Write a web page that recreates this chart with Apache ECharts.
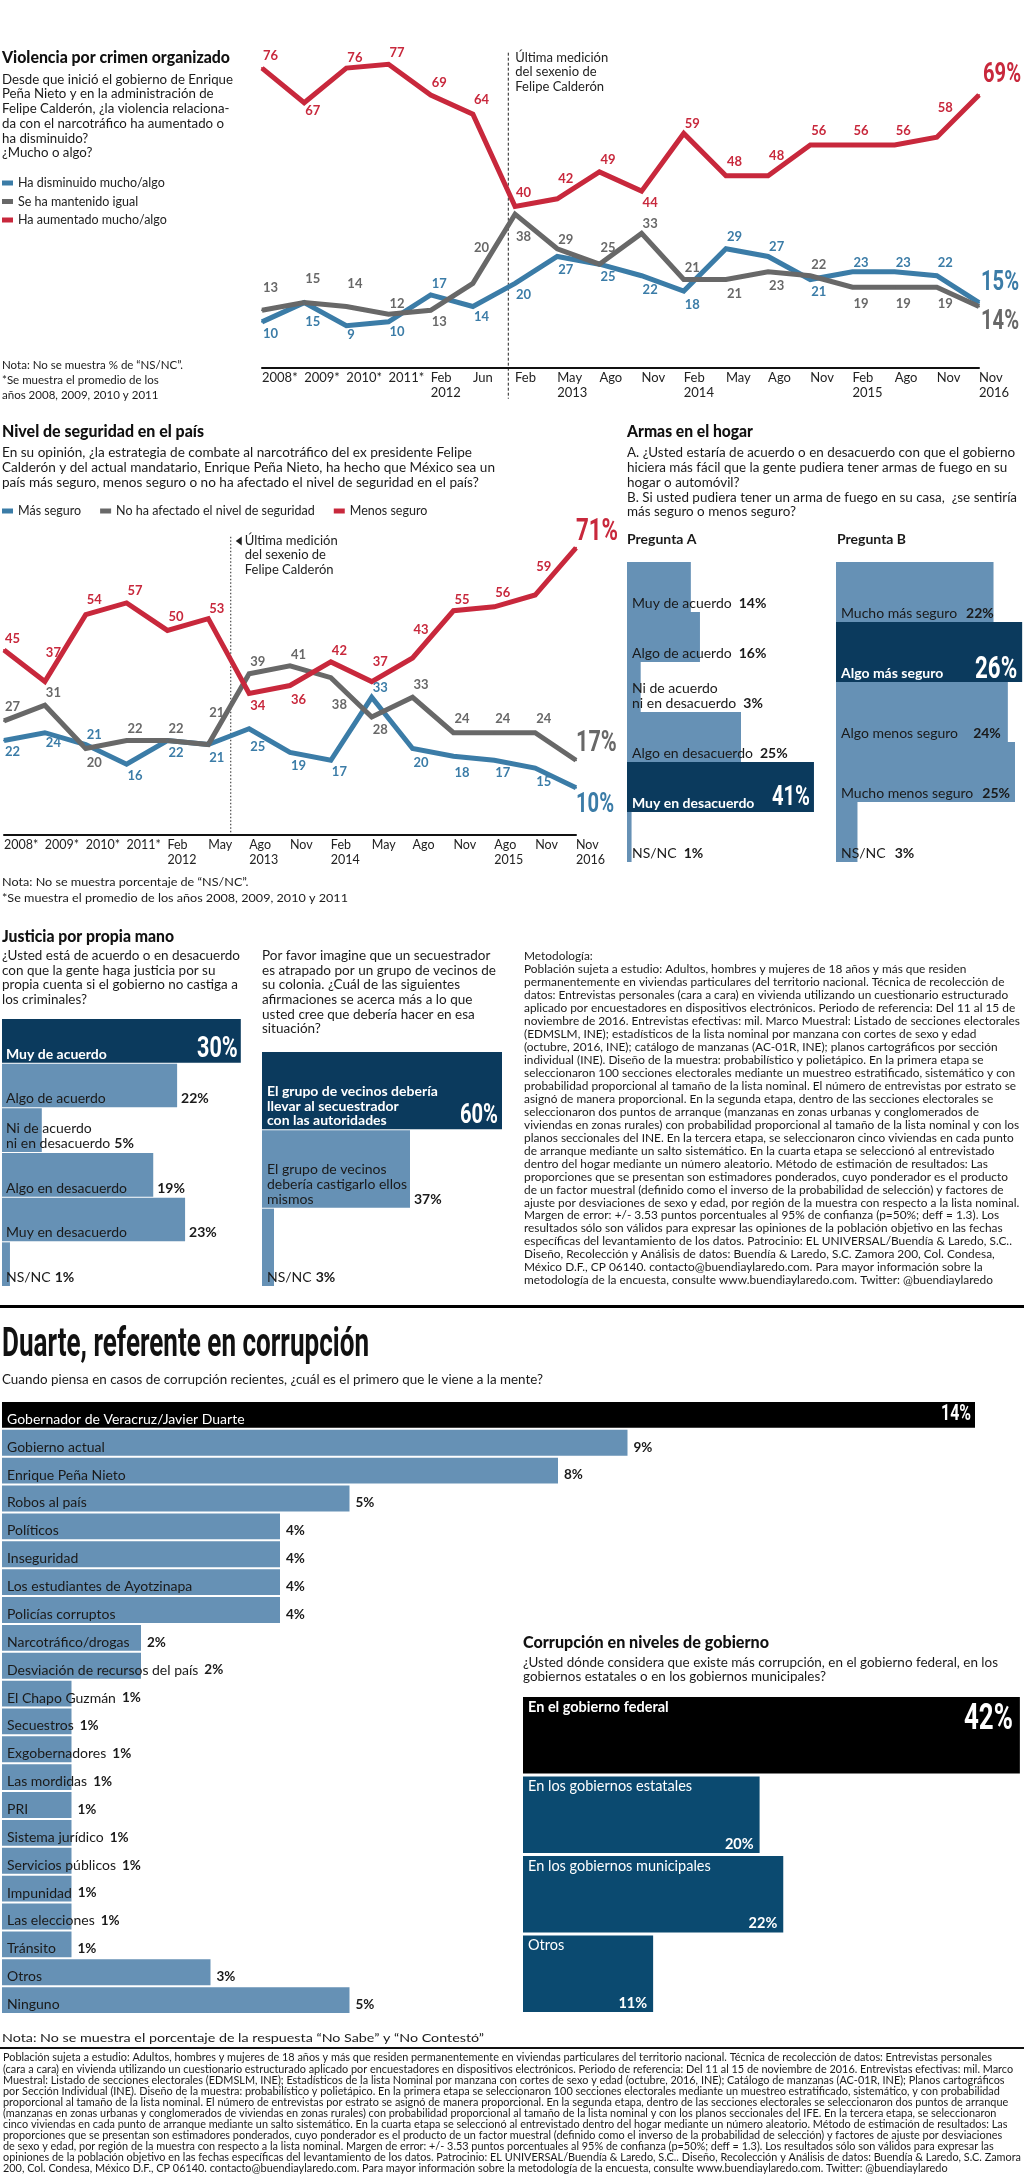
<!DOCTYPE html>
<html><head><meta charset="utf-8">
<script src="https://cdn.jsdelivr.net/npm/echarts@6/dist/echarts.min.js"></script>
<style>html,body{margin:0;padding:0;background:#fff}#c{width:1024px;height:2176px}</style>
</head><body><div id="c"></div>
<script>
// ---------------- DATA ----------------
const violCats = ['2008*','2009*','2010*','2011*','Feb\n2012','Jun','Feb','May\n2013','Ago','Nov','Feb\n2014','May','Ago','Nov','Feb\n2015','Ago','Nov','Nov\n2016'];
const violAumentado = [76,67,76,77,69,64,40,42,49,44,59,48,48,56,56,56,58,69];
const violIgual     = [13,15,14,12,13,20,38,29,25,33,21,21,23,22,19,19,19,14];
const violDisminuido= [10,15,9,10,17,14,20,27,25,22,18,29,27,21,23,23,22,15];

const segCats = ['2008*','2009*','2010*','2011*','Feb\n2012','May','Ago\n2013','Nov','Feb\n2014','May','Ago','Nov','Ago\n2015','Nov','Nov\n2016'];
const segMenos      = [45,37,54,57,50,53,34,36,42,37,43,55,56,59,71];
const segNoAfectado = [27,31,20,22,22,21,39,41,38,28,33,24,24,24,17];
const segMas        = [22,24,21,16,22,21,25,19,17,33,20,18,17,15,10];

const armasANames = ['Muy de acuerdo','Algo de acuerdo','Ni de acuerdo\nni en desacuerdo','Algo en desacuerdo','Muy en desacuerdo','NS/NC'];
const armasAValues = [14,16,3,25,41,1];
const armasBNames = ['Mucho más seguro','Algo más seguro','Algo menos seguro','Mucho menos seguro','NS/NC'];
const armasBValues = [22,26,24,25,3];
const justNames = ['Muy de acuerdo','Algo de acuerdo','Ni de acuerdo\nni en desacuerdo','Algo en desacuerdo','Muy en desacuerdo','NS/NC'];
const justValues = [30,22,5,19,23,1];
const secNames = ['El grupo de vecinos debería\nllevar al secuestrador\ncon las autoridades','El grupo de vecinos\ndebería castigarlo ellos\nmismos','NS/NC'];
const secValues = [60,37,3];
const duarteNames = ['Gobernador de Veracruz/Javier Duarte','Gobierno actual','Enrique Peña Nieto','Robos al país','Políticos','Inseguridad','Los estudiantes de Ayotzinapa','Policías corruptos','Narcotráfico/drogas','Desviación de recursos del país','El Chapo Guzmán','Secuestros','Exgobernadores','Las mordidas','PRI','Sistema jurídico','Servicios públicos','Impunidad','Las elecciones','Tránsito','Otros','Ninguno'];
const duarteValues = [14,9,8,5,4,4,4,4,2,2,1,1,1,1,1,1,1,1,1,1,3,5];
const nivelNames = ['En el gobierno federal','En los gobiernos estatales','En los gobiernos municipales','Otros'];
const nivelValues = [42,20,22,11];

// label vertical placement (style, px offset of label centre from point)
const violAumOff = [-12,8,-10,-11,-12,-14,-14,-20,-12,12,-10,-14,-20,-14,-14,-14,-29,0];
const violIguOff = [-23,-24,-23,-10,11,-36,23,-9,-16,-10,-12,14,14,-11,17,17,17,0];
const violDisOff = [12,19,9,10,-11,10,11,13,13,14,14,-12,-10,12,-9,-9,-13,0];
const segMenOff = [-11,-29,-15,-12,-14,-10,12,14,-11,-20,-28,-11,-14,-28,0];
const segNoOff  = [-14,-12,14,-12,-12,-32,-12,-11,27,13,-12,-14,-14,-14,0];
const segMasOff = [11,10,-10,12,12,13,18,13,12,-9,14,16,13,14,0];

// ---------------- TEXTS ----------------
const q1Lines = ['Desde que inició el gobierno de Enrique','Peña Nieto y en la administración de','Felipe Calderón, ¿la violencia relaciona-','da con el narcotráfico ha aumentado o','ha disminuido?','¿Mucho o algo?'];
const nota1Lines = ['Nota: No se muestra % de “NS/NC”.','*Se muestra el promedio de los','años 2008, 2009, 2010 y 2011'];
const q2Lines = ['En su opinión, ¿la estrategia de combate al narcotráfico del ex presidente Felipe','Calderón y del actual mandatario, Enrique Peña Nieto, ha hecho que México sea un','país más seguro, menos seguro o no ha afectado el nivel de seguridad en el país?'];
const nota2Lines = ['Nota: No se muestra porcentaje de “NS/NC”.','*Se muestra el promedio de los años 2008, 2009, 2010 y 2011'];
const armasLines = ['A. ¿Usted estaría de acuerdo o en desacuerdo con que el gobierno','hiciera más fácil que la gente pudiera tener armas de fuego en su','hogar o automóvil?','B. Si usted pudiera tener un arma de fuego en su casa,  ¿se sentiría','más seguro o menos seguro?'];
const just1Lines = ['¿Usted está de acuerdo o en desacuerdo','con que la gente haga justicia por su','propia cuenta si el gobierno no castiga a','los criminales?'];
const just2Lines = ['Por favor imagine que un secuestrador','es atrapado por un grupo de vecinos de','su colonia. ¿Cuál de las siguientes','afirmaciones se acerca más a lo que','usted cree que debería hacer en esa','situación?'];
const metLines = ['Metodología:',
'Población sujeta a estudio: Adultos, hombres y mujeres de 18 años y más que residen',
'permanentemente en viviendas particulares del territorio nacional. Técnica de recolección de',
'datos: Entrevistas personales (cara a cara) en vivienda utilizando un cuestionario estructurado',
'aplicado por encuestadores en dispositivos electrónicos. Periodo de referencia: Del 11 al 15 de',
'noviembre de 2016. Entrevistas efectivas: mil. Marco Muestral: Listado de secciones electorales',
'(EDMSLM, INE); estadísticos de la lista nominal por manzana con cortes de sexo y edad',
'(octubre, 2016, INE); catálogo de manzanas (AC-01R, INE); planos cartográficos por sección',
'individual (INE). Diseño de la muestra: probabilístico y polietápico. En la primera etapa se',
'seleccionaron 100 secciones electorales mediante un muestreo estratificado, sistemático y con',
'probabilidad proporcional al tamaño de la lista nominal. El número de entrevistas por estrato se',
'asignó de manera proporcional. En la segunda etapa, dentro de las secciones electorales se',
'seleccionaron dos puntos de arranque (manzanas en zonas urbanas y conglomerados de',
'viviendas en zonas rurales) con probabilidad proporcional al tamaño de la lista nominal y con los',
'planos seccionales del INE. En la tercera etapa, se seleccionaron cinco viviendas en cada punto',
'de arranque mediante un salto sistemático. En la cuarta etapa se seleccionó al entrevistado',
'dentro del hogar mediante un número aleatorio. Método de estimación de resultados: Las',
'proporciones que se presentan son estimadores ponderados, cuyo ponderador es el producto',
'de un factor muestral (definido como el inverso de la probabilidad de selección) y factores de',
'ajuste por desviaciones de sexo y edad, por región de la muestra con respecto a la lista nominal.',
'Margen de error: +/- 3.53 puntos porcentuales al 95% de confianza (p=50%; deff = 1.3). Los',
'resultados sólo son válidos para expresar las opiniones de la población objetivo en las fechas',
'específicas del levantamiento de los datos. Patrocinio: EL UNIVERSAL/Buendía & Laredo, S.C..',
'Diseño, Recolección y Análisis de datos: Buendía & Laredo, S.C. Zamora 200, Col. Condesa,',
'México D.F., CP 06140. contacto@buendiaylaredo.com. Para mayor información sobre la',
'metodología de la encuesta, consulte www.buendiaylaredo.com. Twitter: @buendiaylaredo'];
const corrLines = ['¿Usted dónde considera que existe más corrupción, en el gobierno federal, en los','gobiernos estatales o en los gobiernos municipales?'];
const botLines = [
'Población sujeta a estudio: Adultos, hombres y mujeres de 18 años y más que residen permanentemente en viviendas particulares del territorio nacional. Técnica de recolección de datos: Entrevistas personales',
'(cara a cara) en vivienda utilizando un cuestionario estructurado aplicado por encuestadores en dispositivos electrónicos. Periodo de referencia: Del 11 al 15 de noviembre de 2016. Entrevistas efectivas: mil. Marco',
'Muestral: Listado de secciones electorales (EDMSLM, INE); Estadísticos de la lista Nominal por manzana con cortes de sexo y edad (octubre, 2016, INE); Catálogo de manzanas (AC-01R, INE); Planos cartográficos',
'por Sección Individual (INE). Diseño de la muestra: probabilístico y polietápico. En la primera etapa se seleccionaron 100 secciones electorales mediante un muestreo estratificado, sistemático, y con probabilidad',
'proporcional al tamaño de la lista nominal. El número de entrevistas por estrato se asignó de manera proporcional. En la segunda etapa, dentro de las secciones electorales se seleccionaron dos puntos de arranque',
'(manzanas en zonas urbanas y conglomerados de viviendas en zonas rurales) con probabilidad proporcional al tamaño de la lista nominal y con los planos seccionales del IFE. En la tercera etapa, se seleccionaron',
'cinco viviendas en cada punto de arranque mediante un salto sistemático. En la cuarta etapa se seleccionó al entrevistado dentro del hogar mediante un número aleatorio. Método de estimación de resultados: Las',
'proporciones que se presentan son estimadores ponderados, cuyo ponderador es el producto de un factor muestral (definido como el inverso de la probabilidad de selección) y factores de ajuste por desviaciones',
'de sexo y edad, por región de la muestra con respecto a la lista nominal. Margen de error: +/- 3.53 puntos porcentuales al 95% de confianza (p=50%; deff = 1.3). Los resultados sólo son válidos para expresar las',
'opiniones de la población objetivo en las fechas específicas del levantamiento de los datos. Patrocinio: EL UNIVERSAL/Buendía & Laredo, S.C.. Diseño, Recolección y Análisis de datos: Buendía & Laredo, S.C. Zamora',
'200, Col. Condesa, México D.F., CP 06140. contacto@buendiaylaredo.com. Para mayor información sobre la metodología de la encuesta, consulte www.buendiaylaredo.com. Twitter: @buendiaylaredo'];

// ---------------- STYLE ----------------
const LIGHT='#6691b5', NAVY='#0b3a5d', CORR='#0b4a70', RED='#c8283c', BLUE='#3b7ca7', GRAY='#686868', INK='#1a1a1a';
const F = 'Lato, "Open Sans", sans-serif';
const FC = 'Roboto, "Open Sans", sans-serif';
const mctx = document.createElement('canvas').getContext('2d');
function fnt(w,s,fam){ return w+' '+s+'px '+(fam||F); }
function measure(t,f){ mctx.font=f; return mctx.measureText(t).width; }
function txt(x,y,text,o){
  o=o||{};
  const font=fnt(o.w||'normal',o.s||13,o.fam);
  let sx=o.sx||1;
  if(o.fit){
    const ls=o.fitAll?text.split('\n'):[o.fitText||text.split('\n')[0]];
    const mw=Math.max.apply(null,ls.map(l=>measure(l,font)));
    sx=o.fit/mw;
  }
  const va=o.va||'middle', a=o.a||'left';
  const st={text:text,x:0,y:0,font:font,fill:o.c||INK,align:a,verticalAlign:va};
  if(o.lh) st.lineHeight=o.lh;
  return {type:'text',x:x,y:y,scaleX:sx,scaleY:1,silent:true,style:st};
}

const chart = echarts.init(document.getElementById('c'), null, {width:1024,height:2176,renderer:'canvas'});

function lineS(name,data,offs,color,gi){
  return {type:'line',name:name,xAxisIndex:gi,yAxisIndex:gi,silent:true,animation:false,
    symbol:'circle',symbolSize:2,showSymbol:true,
    lineStyle:{width:5,color:color,join:'miter',cap:'butt'},itemStyle:{color:color},
    label:{show:true,position:'inside',align:'left',verticalAlign:'middle',color:color,fontFamily:F,fontWeight:'bold',fontSize:13},
    data:data.map((v,i)=>({value:v,label:{show:i<data.length-1,offset:[1,offs[i]]}}))};
}

const blocks = [
 {names:armasANames,values:armasAValues,hi:4,left:627,top:562,width:390,height:300,ppu:4.56,gap:0,color:LIGHT,hiColor:NAVY,
  nameSize:14,lineH:15,padX:5,padB:1,nameV:'bottom',nameColor:INK,hiNameWeight:'bold',valMode:'after',valGap:7,valSize:14,valColor:INK,
  hiSize:28,hiV:'bottom',hiOff:14,hiPadR:4},
 {names:armasBNames,values:armasBValues,hi:1,left:836,top:562,width:188,height:300,ppu:7.16,gap:0,color:LIGHT,hiColor:NAVY,
  nameSize:14,lineH:15,padX:5,padB:1,nameV:'bottom',nameColor:INK,hiNameWeight:'bold',valMode:'insideEnd',valPadR:7,valGap:9,valSize:14,valColor:INK,
  hiSize:31,hiV:'bottom',hiOff:12,hiPadR:5},
 {names:justNames,values:justValues,hi:0,left:2,top:1019,width:240,height:268,ppu:7.96,gap:1,color:LIGHT,hiColor:NAVY,
  nameSize:14,lineH:15,padX:4,padB:1,nameV:'bottom',nameColor:INK,hiNameWeight:'bold',valMode:'after',valGap:4,valSize:14,valColor:INK,
  hiSize:30,hiV:'bottom',hiOff:13,hiPadR:3},
 {names:secNames,values:secValues,hi:0,left:262,top:1052,width:245,height:235,ppu:4.0,gap:1,color:LIGHT,hiColor:NAVY,
  nameSize:14,lineH:14.7,padX:5,padB:1,nameV:'bottom',nameColor:INK,hiNameWeight:'bold',valMode:'after',valGap:4,valSize:14,valColor:INK,
  hiSize:28,hiV:'bottom',hiOff:13,hiPadR:4},
 {names:duarteNames,values:duarteValues,hi:0,left:2,top:1402,width:1020,height:613,ppu:69.5,gap:2,color:LIGHT,hiColor:'#000',
  nameSize:14,lineH:15,padX:5,padB:1,nameV:'bottom',nameColor:INK,hiNameWeight:'normal',valMode:'after',valGap:6,valSize:13.5,valColor:INK,
  hiSize:22,hiV:'middle',hiOff:0,hiPadR:4},
 {names:nivelNames,values:nivelValues,hi:0,left:523,top:1697,width:499,height:318,ppu:11.83,gap:3,color:CORR,hiColor:'#000',
  nameSize:14.5,lineH:16,padX:5,padB:1,nameV:'top',nameTopPad:2,nameColor:'#fff',hiNameWeight:'bold',valMode:'bottomRight',valPadR:6,valPadB:1,valSize:14.5,valColor:'#fff',
  hiSize:36,hiV:'top',hiOff:23,hiPadR:7}
];

function blockSeries(b,gi){
  return {type:'custom',xAxisIndex:gi,yAxisIndex:gi,clip:false,silent:true,animation:false,
    encode:{x:0,y:1},
    data:b.values.map((v,i)=>[v,i]),
    renderItem:function(params,api){
      const i=api.value(1), v=api.value(0);
      const p0=api.coord([0,i]), p1=api.coord([v,i]);
      const band=api.size([0,1])[1];
      const top=p0[1]-band/2, h=band-b.gap, bottom=top+h;
      const x0=p0[0], x1=p1[0];
      const hi=(i===b.hi);
      const kids=[{type:'rect',shape:{x:x0,y:top,width:x1-x0,height:h},style:{fill:hi?b.hiColor:b.color}}];
      const name=b.names[i];
      const nf=fnt(hi?b.hiNameWeight:'normal',b.nameSize);
      const nameTop=(b.nameV==='top');
      const ny=nameTop?top+b.nameTopPad:bottom-b.padB;
      kids.push({type:'text',style:{text:name,x:x0+b.padX,y:ny,font:nf,fill:hi?'#fff':b.nameColor,lineHeight:b.lineH,align:'left',verticalAlign:nameTop?'top':'bottom'}});
      const vt=v+'%';
      if(hi){
        const cy=b.hiV==='top'?top+b.hiOff:(b.hiV==='middle'?top+h/2:bottom-b.hiOff);
        kids.push({type:'text',x:x1-b.hiPadR,y:cy,scaleX:0.72,scaleY:1,style:{text:vt,x:0,y:0,font:fnt('bold',b.hiSize,FC),fill:'#fff',align:'right',verticalAlign:'middle'}});
      } else {
        const vf=fnt('bold',b.valSize);
        const vw=measure(vt,vf);
        const lines=name.split('\n');
        const nameEnd=x0+b.padX+measure(lines[lines.length-1],nf);
        let vx, vy=bottom-b.padB;
        if(b.valMode==='after') vx=Math.max(x1,nameEnd)+b.valGap;
        else if(b.valMode==='insideEnd') vx=Math.max(x1-b.valPadR-vw,nameEnd+b.valGap);
        else { vx=x1-b.valPadR-vw; vy=bottom-b.valPadB; }
        kids.push({type:'text',style:{text:vt,x:vx,y:vy,font:vf,fill:b.valColor,lineHeight:b.lineH,align:'left',verticalAlign:'bottom'}});
      }
      return {type:'group',children:kids};
    }};
}

const catAxis=(gi,data,fs)=>({gridIndex:gi,type:'category',data:data,boundaryGap:false,
  axisLine:{onZero:false,lineStyle:{color:'#111',width:2}},axisTick:{show:false},splitLine:{show:false},
  axisLabel:{interval:0,align:'left',margin:3,fontFamily:F,fontSize:fs,lineHeight:14.5,color:'#222'}});

const grids=[{left:262,top:45,width:717,height:323},{left:4,top:536,width:572,height:299}];
const xs=[catAxis(0,violCats,13),catAxis(1,segCats,12.5)];
const ys=[{gridIndex:0,type:'value',min:-2,max:82,show:false},{gridIndex:1,type:'value',min:-2,max:74,show:false}];
const ss=[
  lineS('Ha disminuido mucho/algo',violDisminuido,violDisOff,BLUE,0),
  lineS('Se ha mantenido igual',violIgual,violIguOff,GRAY,0),
  lineS('Ha aumentado mucho/algo',violAumentado,violAumOff,RED,0),
  lineS('Más seguro',segMas,segMasOff,BLUE,1),
  lineS('No ha afectado el nivel de seguridad',segNoAfectado,segNoOff,GRAY,1),
  lineS('Menos seguro',segMenos,segMenOff,RED,1)
];
blocks.forEach((b,k)=>{
  const gi=k+2;
  grids.push({left:b.left,top:b.top,width:b.width,height:b.height});
  xs.push({gridIndex:gi,type:'value',min:0,max:b.width/b.ppu,show:false});
  ys.push({gridIndex:gi,type:'category',data:b.names,inverse:true,show:false});
  ss.push(blockSeries(b,gi));
});

const legTxt={fontFamily:F,fontSize:12.5,color:'#222',lineHeight:14};
chart.setOption({
  animation:false, backgroundColor:'#fff',
  legend:[
    {data:['Ha disminuido mucho/algo','Se ha mantenido igual','Ha aumentado mucho/algo'],orient:'vertical',left:2,top:176,padding:0,
     itemWidth:11,itemHeight:5,itemGap:4.5,icon:'rect',selectedMode:false,textStyle:legTxt},
    {data:['Más seguro','No ha afectado el nivel de seguridad','Menos seguro'],orient:'horizontal',left:2,top:504,padding:0,
     itemWidth:11,itemHeight:5,itemGap:19,icon:'rect',selectedMode:false,textStyle:legTxt}
  ],
  grid:grids, xAxis:xs, yAxis:ys, series:ss
});

// ---------------- GRAPHICS ----------------
const G=[];
G.push(txt(2,58,'Violencia por crimen organizado',{w:900,s:17,fit:228,c:'#111'}));
G.push(txt(2,72,q1Lines.join('\n'),{s:13.5,lh:14.7,va:'top',fit:231,fitText:q1Lines[0]}));
G.push(txt(2,357.5,nota1Lines.join('\n'),{s:12,lh:15,va:'top',fit:181,fitText:nota1Lines[0]}));
G.push(txt(2,432,'Nivel de seguridad en el país',{w:900,s:17,fit:202,c:'#111'}));
G.push(txt(2,445.5,q2Lines.join('\n'),{s:13.5,lh:15,va:'top',fit:470,fitText:q2Lines[0]}));
G.push(txt(2,874,nota2Lines.join('\n'),{s:12,lh:16,va:'top',fit:346,fitText:nota2Lines[1]}));
G.push(txt(627,432,'Armas en el hogar',{w:900,s:17,fit:126,c:'#111'}));
G.push(txt(627,445.5,armasLines.join('\n'),{s:13.5,lh:14.8,va:'top',fit:388,fitText:armasLines[0]}));
G.push(txt(627,539,'Pregunta A',{w:'bold',s:14}));
G.push(txt(837,539,'Pregunta B',{w:'bold',s:14}));
G.push(txt(2,937,'Justicia por propia mano',{w:900,s:17,fit:172,c:'#111'}));
G.push(txt(2,948.5,just1Lines.join('\n'),{s:13.5,lh:14.6,va:'top',fit:238,fitText:just1Lines[0]}));
G.push(txt(262,948.5,just2Lines.join('\n'),{s:13.5,lh:14.6,va:'top',fit:234,fitText:just2Lines[1]}));
G.push(txt(524,949.5,metLines.join('\n'),{s:11.5,lh:12.99,va:'top',fit:496,fitAll:true}));
G.push({type:'rect',silent:true,shape:{x:0,y:1305,width:1024,height:3},style:{fill:'#000'}});
G.push(txt(2,1346,'Duarte, referente en corrupción',{w:'bold',s:40,fam:FC,fit:367,c:'#111'}));
G.push(txt(2,1380,'Cuando piensa en casos de corrupción recientes, ¿cuál es el primero que le viene a la mente?',{s:13.5,fit:541}));
G.push(txt(523,1643,'Corrupción en niveles de gobierno',{w:900,s:16,fit:246,c:'#111'}));
G.push(txt(523,1655,corrLines.join('\n'),{s:13.5,lh:14.5,va:'top',fit:475,fitText:corrLines[0]}));
G.push(txt(2,2038,'Nota: No se muestra el porcentaje de la respuesta “No Sabe” y “No Contestó”',{s:12,fit:482}));
G.push({type:'rect',silent:true,shape:{x:0,y:2047,width:1024,height:2},style:{fill:'#111'}});
G.push(txt(3,2052.5,botLines.join('\n'),{s:10.5,lh:11.1,va:'top',fit:1018,fitAll:true}));

function px(si,i,v){ return chart.convertToPixel({seriesIndex:si},[i,v]); }
(function(){
  const a=px(2,5,0), b=px(2,6,0);
  const x=a[0]+0.84*(b[0]-a[0]);
  const y0=px(2,5,80)[1], y1=px(2,5,-10)[1];
  G.push({type:'line',silent:true,shape:{x1:x,y1:y0,x2:x,y2:y1},style:{stroke:'#222',lineWidth:1,lineDash:[3,2]}});
  G.push(txt(x+7,50,'Última medición\ndel sexenio de\nFelipe Calderón',{s:13,lh:14.7,va:'top',c:'#222'}));
  const c=px(5,5,0), d=px(5,6,0);
  const x2=c[0]+0.55*(d[0]-c[0]);
  const z0=px(5,5,73.8)[1], z1=px(5,5,-2)[1];
  G.push({type:'line',silent:true,shape:{x1:x2,y1:z0,x2:x2,y2:z1},style:{stroke:'#222',lineWidth:1,lineDash:[1.5,2]}});
  G.push({type:'polygon',silent:true,shape:{points:[[x2+5,541],[x2+11,536.5],[x2+11,545.5]]},style:{fill:'#222'}});
  G.push(txt(x2+14,534,'Última medición\ndel sexenio de\nFelipe Calderón',{s:13,lh:14.2,va:'top',c:'#222'}));
  const ends=[
    [2,violAumentado,RED,4,-20,28],[0,violDisminuido,BLUE,2,-20,28],[1,violIgual,GRAY,2,16,28],
    [5,segMenos,RED,0,-16,31],[4,segNoAfectado,GRAY,0,-17,30],[3,segMas,BLUE,0,17,28]
  ];
  ends.forEach(e=>{
    const n=e[1].length-1, p=px(e[0],n,e[1][n]);
    G.push(txt(p[0]+e[3],p[1]+e[4],e[1][n]+'%',{w:'bold',s:e[5],fam:FC,sx:0.72,c:e[2]}));
  });
})();
chart.setOption({graphic:{elements:G}});
</script></body></html>
